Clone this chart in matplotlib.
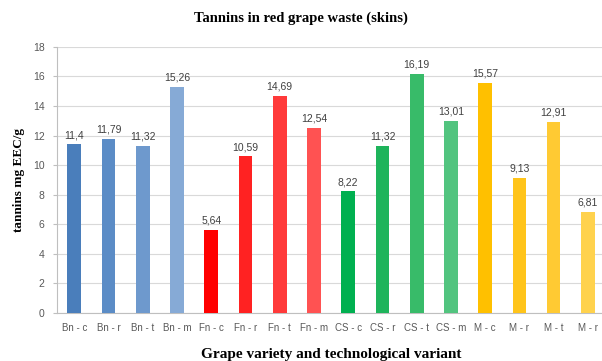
import matplotlib
matplotlib.use("Agg")
import matplotlib.pyplot as plt

categories = ["Bn - c", "Bn - r", "Bn - t", "Bn - m",
              "Fn - c", "Fn - r", "Fn - t", "Fn - m",
              "CS - c", "CS - r", "CS - t", "CS - m",
              "M - c", "M - r", "M - t", "M - r"]
values = [11.4, 11.79, 11.32, 15.26,
          5.64, 10.59, 14.69, 12.54,
          8.22, 11.32, 16.19, 13.01,
          15.57, 9.13, 12.91, 6.81]
labels = ["11,4", "11,79", "11,32", "15,26",
          "5,64", "10,59", "14,69", "12,54",
          "8,22", "11,32", "16,19", "13,01",
          "15,57", "9,13", "12,91", "6,81"]
colors = ["#4a7ebb", "#5b8cc6", "#6e99cd", "#86aad6",
          "#ff0000", "#ff2222", "#ff3a3a", "#ff5252",
          "#00b050", "#1eb45b", "#38bb69", "#52c47f",
          "#ffc000", "#ffc41a", "#ffca33", "#ffd24d"]

fig = plt.figure(figsize=(6.02, 3.61), dpi=100)
ax = fig.add_axes([0.095, 0.133, 0.91, 0.737])
x = list(range(len(categories)))
ax.bar(x, values, width=0.4, color=colors, zorder=3)
for xi, v, lab in zip(x, values, labels):
    ax.text(xi, v + 0.3, lab, ha="center", va="bottom", fontsize=7.5,
            color="#404040", family="Liberation Sans")
ax.set_xlim(-0.5, len(categories) - 0.5)
ax.set_ylim(0, 18)
ax.set_yticks(range(0, 19, 2))
ax.set_xticks(x)
ax.set_xticklabels(categories, fontsize=7, color="#595959", family="Liberation Sans")
for t in ax.get_yticklabels():
    t.set_fontsize(7.5); t.set_color("#595959"); t.set_family("Liberation Sans")
ax.grid(axis="y", color="#d9d9d9", linewidth=0.8, zorder=0)
for s in ["top", "right"]:
    ax.spines[s].set_visible(False)
ax.spines["left"].set_color("#bfbfbf")
ax.spines["bottom"].set_color("#bfbfbf")
ax.tick_params(axis="both", length=3, color="#bfbfbf", pad=6)
ax.tick_params(axis="x", length=0, pad=7)
ax.set_ylabel("tannins mg EEC/g", fontsize=9.5, fontweight="bold", family="Liberation Serif", labelpad=6)
ax.set_xlabel("Grape variety and technological variant", fontsize=11, fontweight="bold",
              family="Liberation Serif", labelpad=11)
fig.text(0.5, 0.95, "Tannins in red grape waste (skins)", ha="center", va="center",
         fontsize=10.5, fontweight="bold", family="Liberation Serif")
fig.savefig("out.png", dpi=100)
